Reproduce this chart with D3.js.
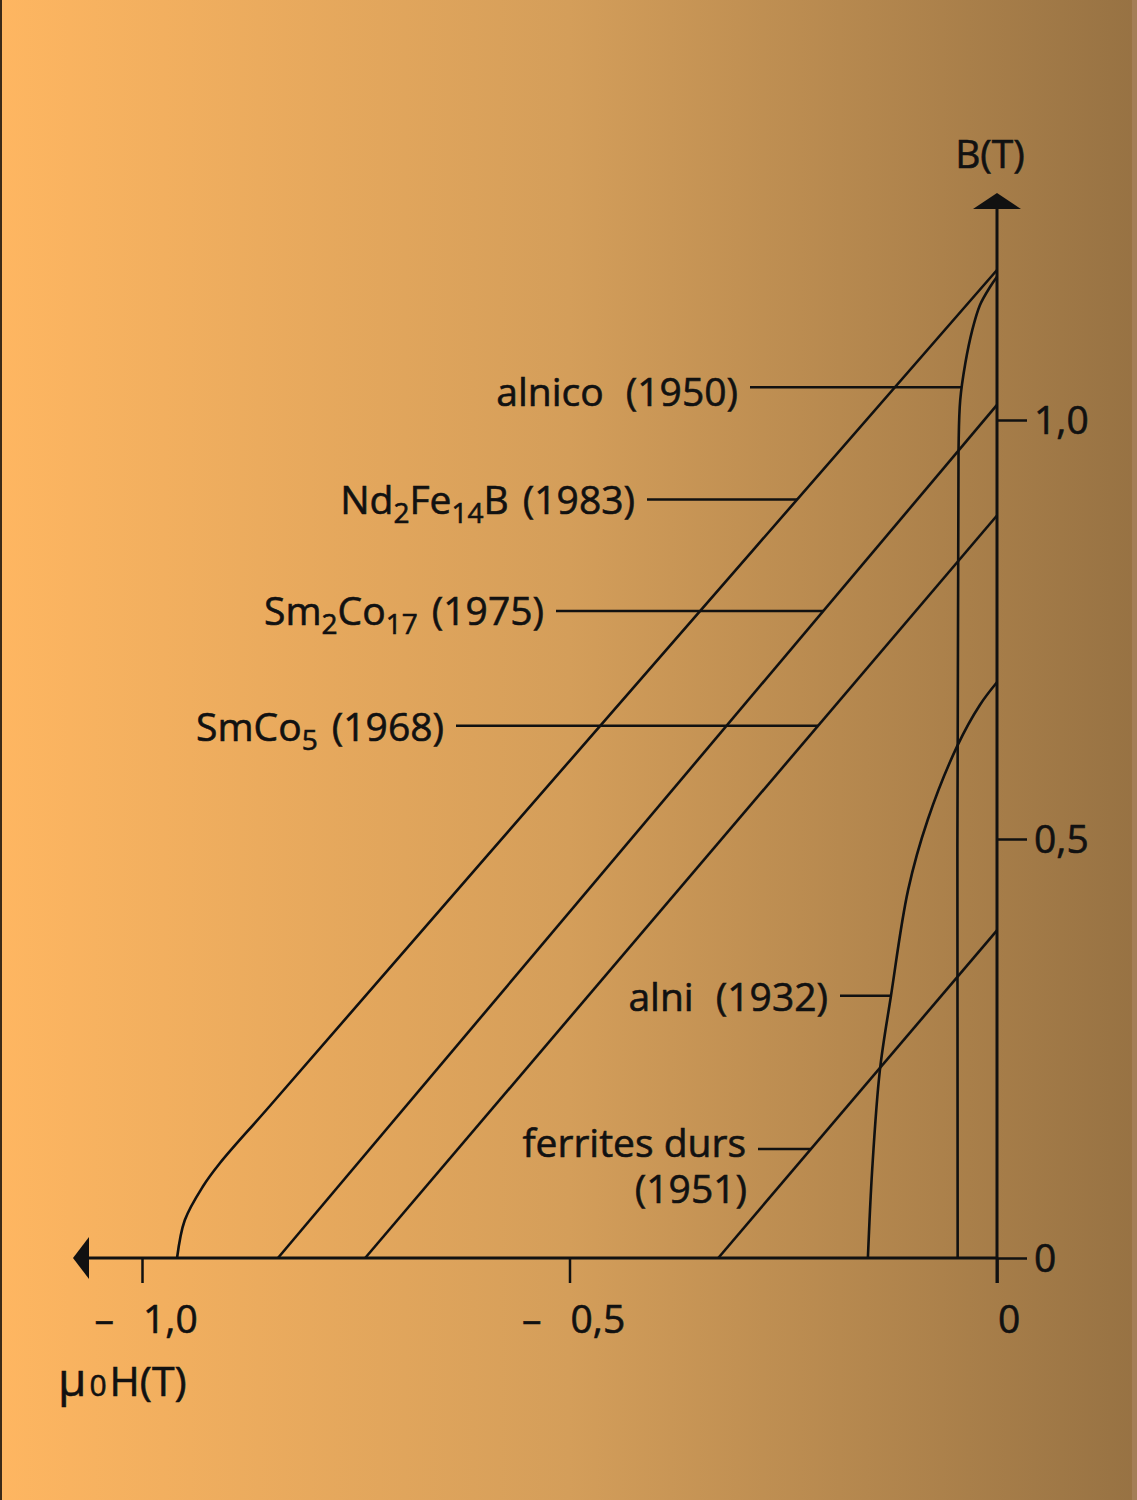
<!DOCTYPE html>
<html><head><meta charset="utf-8">
<script src="https://cdn.jsdelivr.net/npm/d3@7"></script>
<style>html,body{margin:0;padding:0;background:#fff}svg{display:block}</style>
</head><body>
<script>
// ---------- data (H = µ0H in T, B in T) ----------
const alnicoH = [0, -0.008, -0.020, -0.029, -0.037, -0.043, -0.045, -0.046];
const alnicoB = [1.171, 1.159, 1.137, 1.107, 1.068, 1.024, 0.964, 0];
const ndfebH = [0, -0.5, -0.85, -0.909, -0.929, -0.950, -0.959];
const ndfebB = [1.179, 0.593, 0.182, 0.113, 0.085, 0.045, 0];
const sm2co17H = [0, -0.841];
const sm2co17B = [1.018, 0];
const smco5H = [0, -0.739];
const smco5B = [0.886, 0];
const alniH = [0, -0.020, -0.046, -0.081, -0.104, -0.124, -0.137, -0.146, -0.151];
const alniB = [0.687, 0.660, 0.612, 0.523, 0.439, 0.313, 0.224, 0.105, 0];
const ferriteH = [0, -0.326];
const ferriteB = [0.391, 0];

const xTicks = [-1.0, -0.5, 0];
const xTickLabels = ["1,0", "0,5", "0"];
const yTicks = [0, 0.5, 1.0];
const yTickLabels = ["0", "0,5", "1,0"];

// label parts: [text, subscript?]
const labelNames = ["alnico", "Nd2Fe14B", "Sm2Co17", "SmCo5", "alni", "ferrites"];
const labelParts = [
  [["alnico", 0], [" (1950)", 0]],
  [["Nd", 0], ["2", 1], ["Fe", 0], ["14", 1], ["B", 0], [" (1983)", 0]],
  [["Sm", 0], ["2", 1], ["Co", 0], ["17", 1], [" (1975)", 0]],
  [["SmCo", 0], ["5", 1], [" (1968)", 0]],
  [["alni", 0], [" (1932)", 0]],
  [["ferrites durs", 0]]
];
const labelSecondLine = ["", "", "", "", "", "(1951)"];
const leaderB = [1.039, 0.905, 0.772, 0.635, 0.313, 0.130];

// ---------- layout ----------
const W = 1137, H = 1500;
const textEndX = [738, 635, 544, 444, 828, 746];
const baselineOffset = [19, 14, 14, 15, 15, 8];
const yearGap = [12, 4, 4, 4, 12, 0];
const gap = 12;

const svg = d3.select("body").append("svg").attr("width", W).attr("height", H);
const defs = svg.append("defs");
const grad = defs.append("linearGradient").attr("id", "bg").attr("x1", 0).attr("x2", 1).attr("y1", 0).attr("y2", 0);
grad.append("stop").attr("offset", 0).attr("stop-color", "#feb661");
grad.append("stop").attr("offset", 0.5).attr("stop-color", "#d49e5a");
grad.append("stop").attr("offset", 1).attr("stop-color", "#977243");
svg.append("rect").attr("width", W).attr("height", H).attr("fill", "url(#bg)");
svg.append("rect").attr("x", 0).attr("width", 2).attr("height", H).attr("fill", "#3b2a17");
svg.append("rect").attr("x", W - 5).attr("width", 5).attr("height", H).attr("fill", "#a37e56");

const x = d3.scaleLinear().domain([-1, 0]).range([142, 997]);
const y = d3.scaleLinear().domain([0, 1]).range([1258, 420]);

const FONT = "'Open Sans', 'Liberation Sans', sans-serif";
const FS = 39, SUB = 28;
const ink = "#111";

// ---------- axes ----------
const ax = svg.append("g").attr("stroke", ink).attr("stroke-width", 3).attr("fill", "none");
ax.append("line").attr("x1", 86).attr("x2", x(0)).attr("y1", y(0)).attr("y2", y(0));
ax.append("line").attr("x1", x(0)).attr("x2", x(0)).attr("y1", y(0) + 25).attr("y2", 207);

const xAxis = d3.axisBottom(x).tickValues(xTicks).tickSize(25).tickFormat("");
const gx = svg.append("g").attr("transform", `translate(0,${y(0)})`).call(xAxis);
gx.select(".domain").remove();
gx.selectAll(".tick line").attr("stroke", ink).attr("stroke-width", 2.5);

const yAxis = d3.axisRight(y).tickValues(yTicks).tickSize(30).tickFormat("");
const gy = svg.append("g").attr("transform", `translate(${x(0)},0)`).call(yAxis);
gy.select(".domain").remove();
gy.selectAll(".tick line").attr("stroke", ink).attr("stroke-width", 2.5);

// arrows
svg.append("path").attr("d", `M73,${y(0)} L89,${y(0) - 21} L89,${y(0) + 21} Z`).attr("fill", ink);
svg.append("path").attr("d", `M${x(0)},193 L${x(0) + 24},209 L${x(0) - 24},209 Z`).attr("fill", ink);

// tick labels
const tl = svg.append("g").attr("font-family", FONT).attr("font-size", FS).attr("fill", ink)
  .attr("stroke", ink).attr("stroke-width", 0.6);
xTicks.forEach((v, i) => {
  tl.append("text").attr("x", x(v) + 1).attr("y", 1333).text(xTickLabels[i]);
  if (v < 0) tl.append("text").attr("x", x(v) - 28).attr("y", 1333).attr("text-anchor", "end").text("–");
});
yTicks.forEach((v, i) => {
  tl.append("text").attr("x", x(0) + 37).attr("y", y(v) + 14).text(yTickLabels[i]);
});
tl.append("text").attr("x", 990).attr("y", 168).attr("text-anchor", "middle").text("B(T)");
const mu = tl.append("text").attr("x", 58).attr("y", 1396);
mu.append("tspan").attr("font-size", 46).text("µ");
mu.append("tspan").attr("font-size", 30).attr("dx", 3).text("0");
mu.append("tspan").attr("dx", 3).attr("font-size", 41).text("H(T)");

// ---------- curves ----------
const curves = [
  [alnicoH, alnicoB], [ndfebH, ndfebB], [sm2co17H, sm2co17B],
  [smco5H, smco5B], [alniH, alniB], [ferriteH, ferriteB]
];
const line = d3.line().x(d => x(d[0])).y(d => y(d[1])).curve(d3.curveCatmullRom.alpha(0.5));
const cg = svg.append("g").attr("fill", "none").attr("stroke", ink).attr("stroke-width", 2.6).attr("stroke-linejoin", "round");
curves.forEach(([hs, bs]) => {
  const pts = hs.map((h, i) => [h, bs[i]]);
  cg.append("path").attr("d", line(pts));
});

// H at given B (linear interpolation)
function hAt(hs, bs, b) {
  for (let i = 0; i < bs.length - 1; i++) {
    const b0 = bs[i], b1 = bs[i + 1];
    if ((b <= b0 && b >= b1) || (b >= b0 && b <= b1)) {
      const t = (b - b0) / (b1 - b0);
      return hs[i] + t * (hs[i + 1] - hs[i]);
    }
  }
  return hs[hs.length - 1];
}

// ---------- labels ----------
const lg = svg.append("g").attr("font-family", FONT).attr("font-size", FS).attr("fill", ink)
  .attr("stroke", ink).attr("stroke-width", 0.6);
labelNames.forEach((name, i) => {
  const ly = y(leaderB[i]);
  const t = lg.append("text").attr("x", textEndX[i]).attr("y", ly + baselineOffset[i])
    .attr("text-anchor", "end");
  let sub = false;
  labelParts[i].forEach(([s, isSub], k) => {
    const sp = t.append("tspan").text(s);
    if (isSub && !sub) { sp.attr("font-size", SUB).attr("dy", 9); sub = true; }
    else if (!isSub && sub) { sp.attr("dy", -9); sub = false; }
    if (k === labelParts[i].length - 1 && k > 0) sp.attr("dx", yearGap[i]);
  });
  if (labelSecondLine[i]) {
    t.append("tspan").attr("x", textEndX[i] + 1).attr("dy", 46).text(labelSecondLine[i]);
  }
  const [hs, bs] = curves[i];
  svg.append("line").attr("x1", textEndX[i] + gap).attr("x2", x(hAt(hs, bs, leaderB[i])))
    .attr("y1", ly).attr("y2", ly).attr("stroke", ink).attr("stroke-width", 2.5);
});
</script>
</body></html>
